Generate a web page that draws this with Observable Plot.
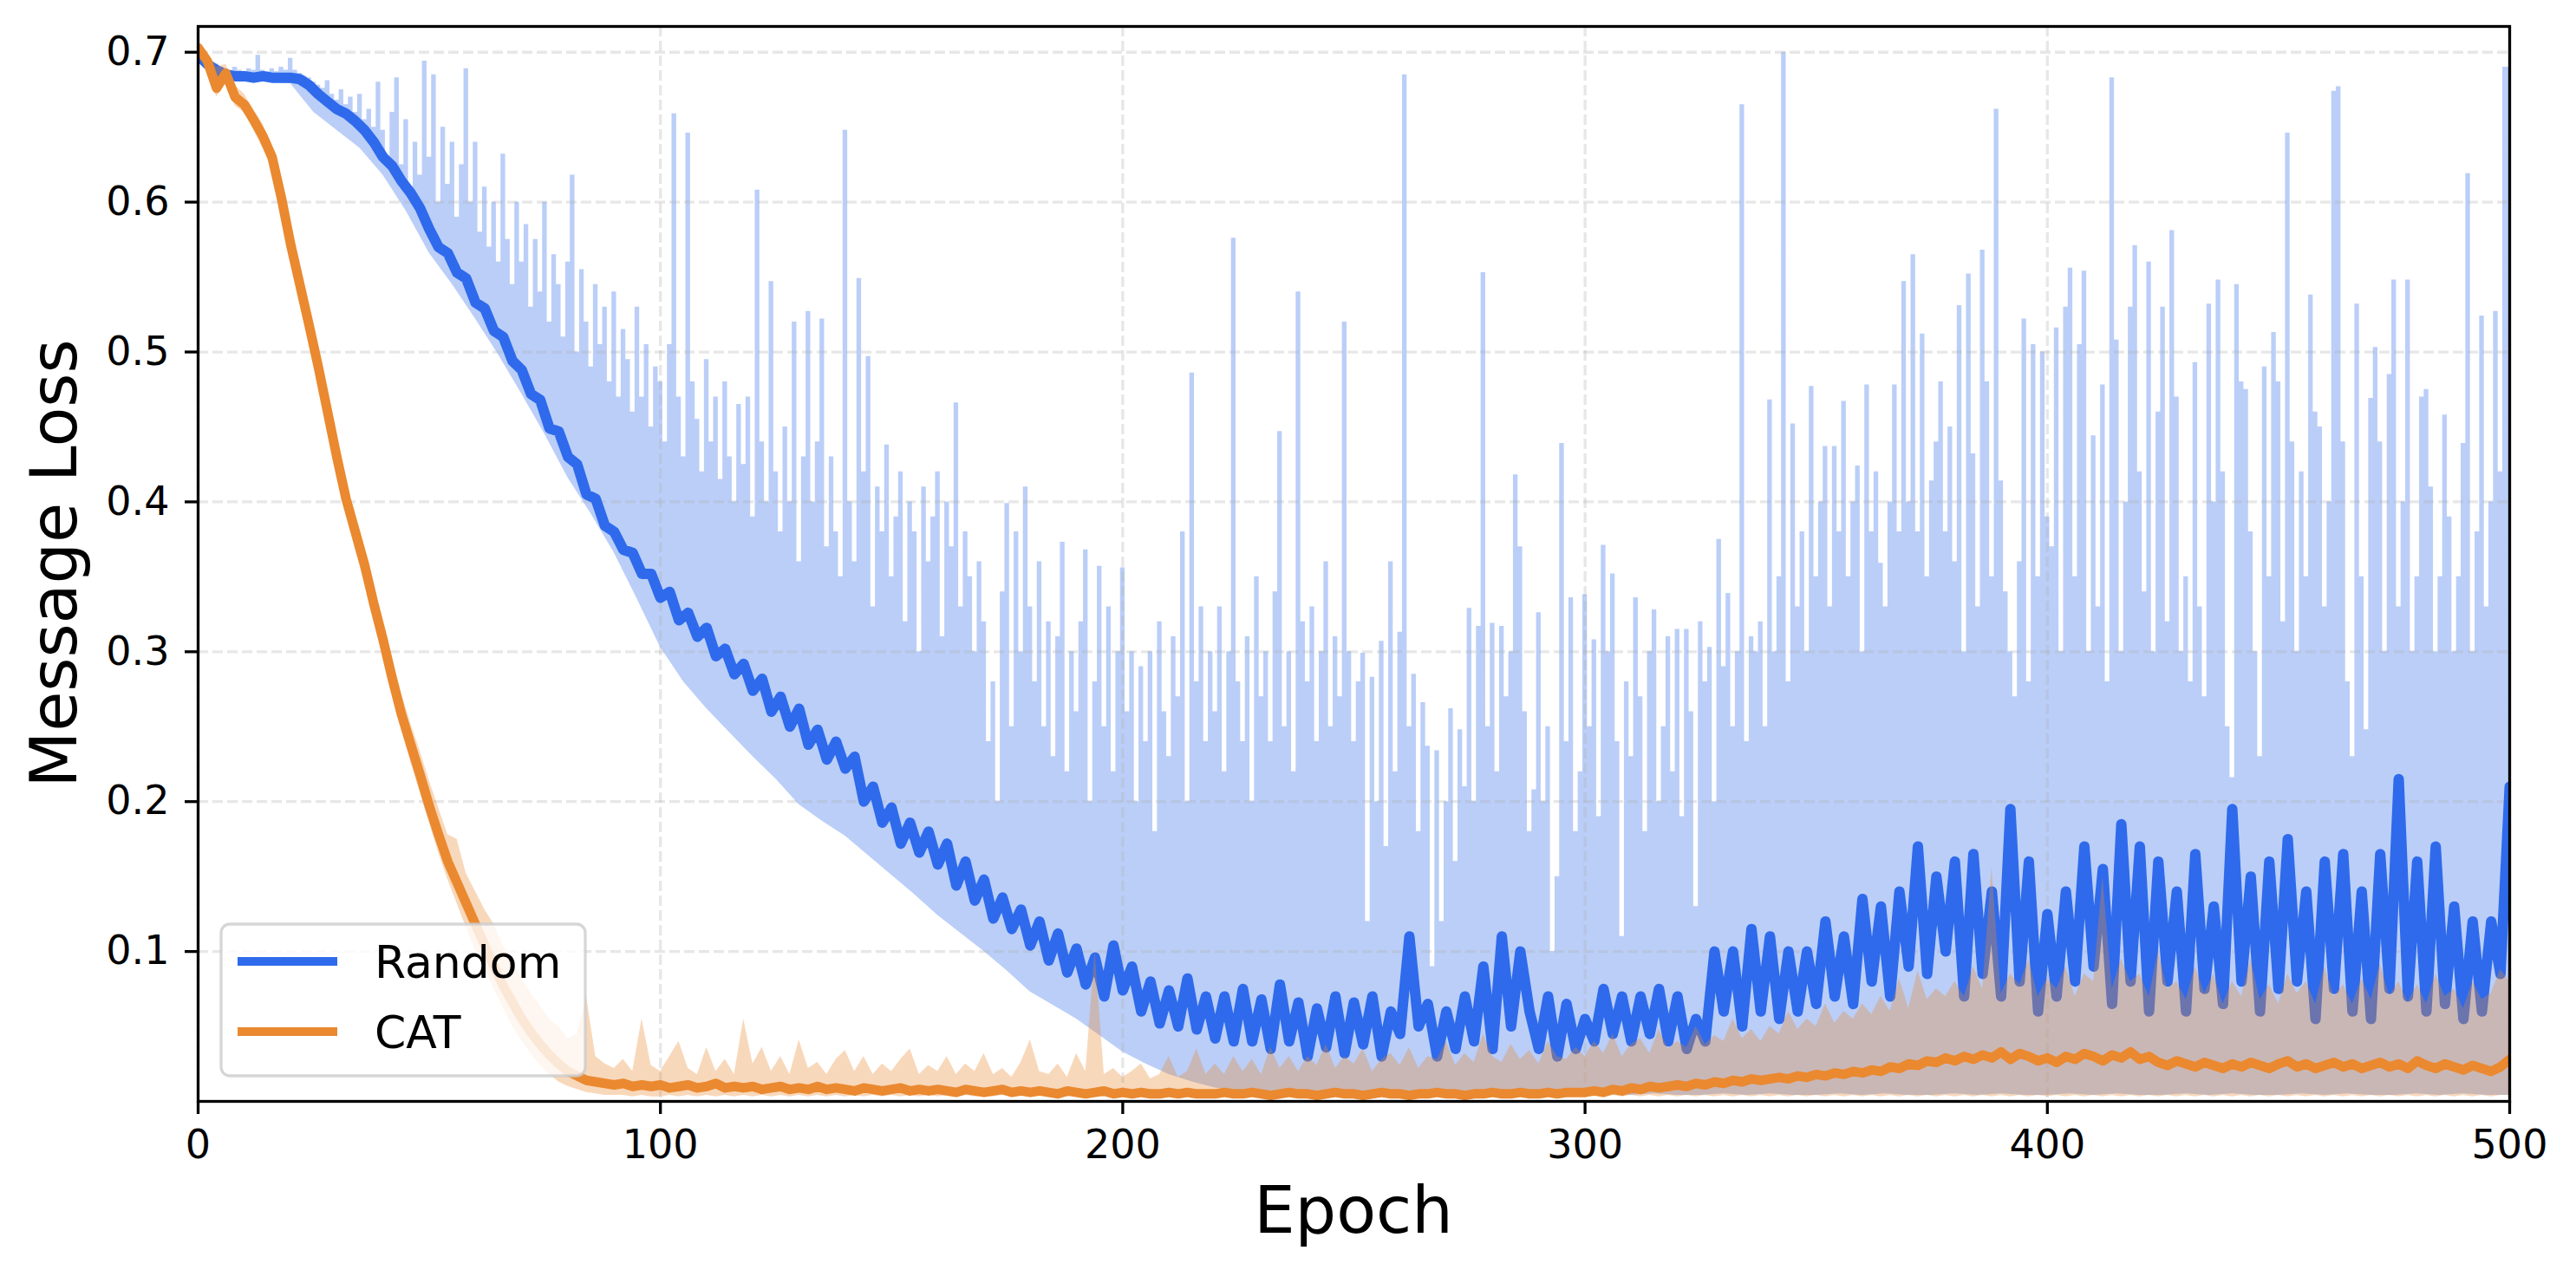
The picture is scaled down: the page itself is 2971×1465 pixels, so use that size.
<!DOCTYPE html>
<html>
<head>
<meta charset="utf-8">
<script src="https://cdn.jsdelivr.net/npm/d3@7"></script>
<script src="https://cdn.jsdelivr.net/npm/@observablehq/plot@0.6"></script>
<style>
  html, body { margin: 0; padding: 0; background: white; }
  #chart svg { display: block; }
</style>
</head>
<body>
<div id="chart"></div>
<script>
// ---------------- data ----------------
const seriesNames = ["Random", "CAT"];
const xTicks = [0, 100, 200, 300, 400, 500];
const yTicks = [0.1, 0.2, 0.3, 0.4, 0.5, 0.6, 0.7];

// Random: upper envelope of raw per-epoch loss (epoch 0..500, step 1)
const randomHigh = [
0.700,0.698,0.695,0.693,0.692,0.690,0.689,0.688,0.690,0.688,
0.687,0.689,0.688,0.698,0.688,0.687,0.689,0.687,0.690,0.688,
0.696,0.688,0.686,0.684,0.683,0.680,0.678,0.676,0.681,0.672,
0.668,0.675,0.665,0.670,0.660,0.672,0.655,0.662,0.650,0.680,
0.648,0.628,0.660,0.683,0.625,0.655,0.610,0.640,0.618,0.694,
0.630,0.685,0.600,0.650,0.612,0.640,0.590,0.625,0.689,0.600,
0.640,0.580,0.610,0.570,0.600,0.560,0.632,0.575,0.545,0.600,
0.560,0.585,0.530,0.575,0.540,0.600,0.520,0.565,0.545,0.510,
0.560,0.618,0.500,0.555,0.520,0.490,0.545,0.505,0.530,0.480,
0.540,0.470,0.515,0.495,0.460,0.530,0.470,0.505,0.450,0.490,
0.480,0.440,0.505,0.659,0.470,0.430,0.646,0.480,0.455,0.420,
0.495,0.440,0.470,0.415,0.480,0.430,0.400,0.465,0.425,0.470,
0.390,0.608,0.440,0.400,0.547,0.420,0.380,0.450,0.400,0.520,
0.360,0.430,0.527,0.400,0.440,0.522,0.370,0.430,0.380,0.350,
0.648,0.400,0.360,0.549,0.420,0.497,0.330,0.410,0.380,0.438,
0.350,0.390,0.420,0.320,0.400,0.380,0.300,0.410,0.360,0.390,
0.420,0.310,0.400,0.370,0.466,0.330,0.380,0.350,0.300,0.360,
0.320,0.240,0.280,0.200,0.340,0.399,0.250,0.380,0.300,0.410,
0.330,0.280,0.360,0.250,0.320,0.230,0.310,0.373,0.220,0.300,
0.260,0.320,0.368,0.200,0.280,0.357,0.250,0.330,0.220,0.300,
0.356,0.260,0.300,0.200,0.290,0.240,0.300,0.180,0.320,0.260,
0.230,0.310,0.270,0.380,0.200,0.486,0.280,0.330,0.240,0.300,
0.260,0.330,0.220,0.300,0.576,0.280,0.240,0.310,0.200,0.350,
0.270,0.300,0.240,0.340,0.447,0.250,0.300,0.220,0.540,0.320,
0.280,0.330,0.240,0.300,0.360,0.250,0.310,0.270,0.520,0.300,
0.240,0.280,0.299,0.120,0.283,0.200,0.307,0.170,0.360,0.220,
0.313,0.685,0.250,0.285,0.180,0.266,0.237,0.090,0.234,0.120,
0.200,0.262,0.160,0.248,0.210,0.329,0.200,0.317,0.553,0.250,
0.319,0.220,0.317,0.270,0.300,0.418,0.370,0.260,0.180,0.208,
0.326,0.200,0.250,0.100,0.150,0.439,0.240,0.336,0.180,0.220,
0.338,0.250,0.308,0.190,0.371,0.300,0.352,0.240,0.110,0.280,
0.230,0.336,0.270,0.180,0.300,0.328,0.200,0.250,0.310,0.220,
0.315,0.190,0.315,0.260,0.130,0.320,0.280,0.303,0.200,0.375,
0.290,0.339,0.250,0.300,0.665,0.240,0.310,0.300,0.320,0.250,
0.468,0.300,0.350,0.700,0.280,0.452,0.330,0.380,0.300,0.477,
0.350,0.400,0.437,0.330,0.437,0.380,0.467,0.350,0.400,0.424,
0.300,0.478,0.380,0.420,0.359,0.330,0.400,0.478,0.380,0.547,
0.400,0.565,0.380,0.512,0.350,0.414,0.440,0.480,0.380,0.450,
0.360,0.531,0.300,0.552,0.432,0.330,0.568,0.480,0.350,0.662,
0.414,0.340,0.300,0.270,0.360,0.522,0.280,0.505,0.350,0.500,
0.390,0.370,0.516,0.300,0.530,0.556,0.350,0.505,0.554,0.300,
0.444,0.330,0.478,0.280,0.683,0.508,0.300,0.400,0.530,0.571,
0.420,0.340,0.560,0.300,0.460,0.530,0.320,0.581,0.470,0.300,
0.350,0.280,0.493,0.330,0.270,0.532,0.400,0.548,0.420,0.250,
0.216,0.545,0.480,0.475,0.380,0.300,0.230,0.490,0.350,0.513,
0.480,0.320,0.646,0.440,0.300,0.420,0.350,0.538,0.460,0.450,
0.330,0.400,0.674,0.677,0.440,0.280,0.230,0.532,0.350,0.248,
0.469,0.503,0.440,0.300,0.485,0.548,0.330,0.400,0.548,0.300,
0.350,0.470,0.475,0.410,0.300,0.350,0.458,0.390,0.300,0.350,
0.439,0.619,0.300,0.380,0.524,0.330,0.400,0.527,0.420,0.690,
0.690
];

// Random: lower envelope of raw loss (epoch 0..500, step 5)
const randomLow = [
0.697,0.684,0.681,0.680,0.679,0.660,0.648,0.636,0.618,0.594,
0.566,0.545,0.522,0.498,0.472,0.445,0.416,0.392,0.366,0.335,
0.303,0.280,0.262,0.246,0.230,0.215,0.198,0.187,0.177,0.164,
0.151,0.138,0.124,0.112,0.100,0.087,0.073,0.064,0.055,0.044,
0.033,0.025,0.018,0.013,0.009,0.007,0.005,0.005,0.004,0.005,
0.004,0.005,0.004,0.005,0.004,0.004,0.005,0.004,0.005,0.004,
0.004,0.005,0.004,0.005,0.004,0.004,0.005,0.004,0.005,0.004,
0.004,0.005,0.004,0.005,0.004,0.004,0.005,0.004,0.005,0.004,
0.004,0.005,0.004,0.005,0.004,0.004,0.005,0.004,0.005,0.004,
0.004,0.005,0.004,0.005,0.004,0.004,0.005,0.004,0.005,0.004,
0.004
];

// Random: smoothed loss (epoch 0..500, step 2)
const randomMean = [
0.698,0.692,0.688,0.685,0.684,0.684,0.683,0.684,0.683,0.683,
0.683,0.682,0.678,0.672,0.667,0.662,0.659,0.654,0.648,0.640,
0.630,0.624,0.614,0.606,0.596,0.582,0.570,0.566,0.553,0.549,
0.533,0.529,0.514,0.510,0.494,0.488,0.472,0.468,0.449,0.447,
0.430,0.425,0.405,0.402,0.384,0.380,0.368,0.366,0.352,0.352,
0.336,0.340,0.321,0.326,0.310,0.316,0.297,0.302,0.285,0.292,
0.274,0.282,0.260,0.270,0.250,0.262,0.238,0.248,0.228,0.240,
0.222,0.230,0.200,0.210,0.186,0.196,0.172,0.186,0.166,0.180,
0.158,0.172,0.144,0.160,0.134,0.148,0.122,0.136,0.115,0.128,
0.104,0.120,0.094,0.112,0.086,0.102,0.078,0.096,0.070,0.104,
0.074,0.090,0.060,0.080,0.052,0.074,0.050,0.082,0.048,0.070,
0.042,0.070,0.040,0.075,0.040,0.068,0.035,0.078,0.040,0.066,
0.030,0.062,0.036,0.070,0.032,0.066,0.038,0.070,0.030,0.060,
0.045,0.110,0.050,0.065,0.030,0.060,0.035,0.070,0.040,0.090,
0.035,0.110,0.050,0.100,0.060,0.035,0.070,0.030,0.065,0.035,
0.055,0.040,0.075,0.045,0.070,0.040,0.070,0.045,0.075,0.040,
0.070,0.035,0.055,0.040,0.100,0.060,0.100,0.050,0.115,0.060,
0.110,0.055,0.100,0.060,0.100,0.065,0.120,0.070,0.110,0.065,
0.135,0.080,0.130,0.070,0.140,0.090,0.170,0.085,0.150,0.100,
0.160,0.070,0.165,0.085,0.140,0.070,0.195,0.080,0.160,0.060,
0.125,0.070,0.140,0.080,0.170,0.090,0.155,0.065,0.185,0.080,
0.170,0.060,0.160,0.080,0.140,0.060,0.165,0.075,0.130,0.065,
0.195,0.080,0.150,0.060,0.160,0.075,0.175,0.080,0.140,0.055,
0.160,0.075,0.165,0.060,0.140,0.055,0.165,0.075,0.215,0.070,
0.160,0.060,0.170,0.065,0.130,0.055,0.120,0.060,0.120,0.085,
0.210
];

// CAT: smoothed loss, raw upper and lower envelopes (epoch 0..500, step 2)
const catMean = [
0.703,0.694,0.676,0.686,0.670,0.665,0.655,0.644,0.630,0.603,
0.572,0.545,0.518,0.490,0.460,0.430,0.402,0.380,0.358,0.332,
0.308,0.282,0.258,0.238,0.218,0.197,0.178,0.160,0.146,0.132,
0.118,0.104,0.090,0.077,0.066,0.055,0.046,0.038,0.031,0.025,
0.020,0.017,0.014,0.013,0.012,0.011,0.012,0.010,0.011,0.010,
0.011,0.009,0.010,0.011,0.009,0.010,0.012,0.009,0.010,0.009,
0.010,0.008,0.009,0.010,0.008,0.009,0.008,0.010,0.008,0.009,
0.008,0.007,0.009,0.008,0.007,0.008,0.009,0.007,0.008,0.007,
0.008,0.007,0.006,0.008,0.007,0.006,0.007,0.008,0.006,0.007,
0.006,0.007,0.006,0.005,0.007,0.006,0.005,0.006,0.007,0.005,
0.006,0.005,0.006,0.005,0.005,0.006,0.005,0.006,0.005,0.005,
0.005,0.006,0.005,0.005,0.006,0.005,0.004,0.005,0.006,0.005,
0.005,0.004,0.005,0.006,0.005,0.005,0.004,0.005,0.006,0.005,
0.005,0.004,0.005,0.005,0.006,0.005,0.005,0.004,0.005,0.005,
0.006,0.005,0.005,0.006,0.005,0.005,0.006,0.005,0.006,0.006,
0.006,0.007,0.006,0.008,0.007,0.009,0.008,0.010,0.009,0.010,
0.011,0.010,0.012,0.011,0.013,0.012,0.014,0.013,0.015,0.014,
0.015,0.016,0.015,0.017,0.016,0.018,0.017,0.019,0.018,0.020,
0.019,0.021,0.020,0.023,0.022,0.025,0.024,0.027,0.026,0.029,
0.027,0.030,0.028,0.031,0.029,0.033,0.028,0.032,0.030,0.027,
0.029,0.026,0.030,0.028,0.032,0.030,0.027,0.031,0.029,0.033,
0.028,0.030,0.026,0.024,0.027,0.025,0.023,0.026,0.024,0.022,
0.025,0.023,0.026,0.024,0.022,0.025,0.027,0.023,0.025,0.022,
0.024,0.026,0.023,0.025,0.022,0.024,0.026,0.023,0.025,0.022,
0.027,0.024,0.022,0.025,0.023,0.021,0.024,0.022,0.020,0.023,
0.028
];
const catHigh = [
0.706,0.700,0.690,0.692,0.678,0.672,0.662,0.652,0.638,0.612,
0.582,0.556,0.528,0.502,0.470,0.442,0.414,0.392,0.370,0.344,
0.320,0.296,0.272,0.252,0.234,0.214,0.196,0.178,0.175,0.152,
0.140,0.128,0.118,0.104,0.094,0.082,0.072,0.064,0.055,0.050,
0.042,0.045,0.070,0.030,0.025,0.022,0.028,0.020,0.055,0.024,
0.020,0.030,0.040,0.022,0.018,0.036,0.020,0.028,0.018,0.055,
0.025,0.036,0.020,0.030,0.018,0.041,0.022,0.026,0.018,0.028,
0.034,0.020,0.030,0.018,0.025,0.020,0.028,0.035,0.018,0.024,
0.020,0.030,0.018,0.025,0.020,0.032,0.018,0.022,0.016,0.026,
0.041,0.020,0.018,0.025,0.016,0.032,0.020,0.100,0.018,0.022,
0.016,0.020,0.025,0.015,0.018,0.030,0.016,0.020,0.035,0.018,
0.025,0.018,0.030,0.020,0.028,0.018,0.036,0.022,0.030,0.020,
0.030,0.024,0.038,0.022,0.030,0.025,0.035,0.020,0.028,0.032,
0.024,0.036,0.022,0.030,0.028,0.040,0.024,0.032,0.026,0.045,
0.030,0.026,0.038,0.028,0.034,0.025,0.040,0.030,0.028,0.036,
0.030,0.040,0.032,0.045,0.030,0.038,0.042,0.032,0.048,0.035,
0.040,0.036,0.050,0.038,0.044,0.040,0.055,0.042,0.048,0.040,
0.050,0.045,0.060,0.048,0.055,0.050,0.065,0.052,0.060,0.055,
0.065,0.058,0.070,0.060,0.082,0.062,0.087,0.068,0.075,0.070,
0.080,0.070,0.090,0.075,0.156,0.072,0.085,0.078,0.095,0.070,
0.082,0.075,0.090,0.070,0.085,0.080,0.150,0.075,0.095,0.080,
0.085,0.070,0.100,0.075,0.080,0.068,0.090,0.072,0.085,0.065,
0.080,0.070,0.095,0.068,0.078,0.065,0.085,0.072,0.080,0.065,
0.090,0.070,0.078,0.065,0.082,0.068,0.092,0.070,0.080,0.066,
0.078,0.065,0.085,0.070,0.075,0.062,0.080,0.068,0.072,0.088,
0.080
];
const catLow = [
0.700,0.690,0.670,0.680,0.664,0.660,0.648,0.636,0.622,0.594,
0.562,0.534,0.508,0.478,0.450,0.420,0.392,0.368,0.346,0.322,
0.298,0.272,0.248,0.226,0.206,0.186,0.166,0.148,0.132,0.116,
0.100,0.088,0.075,0.062,0.050,0.040,0.032,0.024,0.018,0.013,
0.010,0.008,0.006,0.005,0.004,0.004,0.004,0.003,0.004,0.003,
0.003,0.004,0.003,0.004,0.003,0.004,0.003,0.004,0.003,0.004,
0.003,0.004,0.003,0.004,0.003,0.004,0.003,0.004,0.003,0.004,
0.003,0.004,0.003,0.004,0.003,0.004,0.003,0.004,0.003,0.004,
0.003,0.004,0.003,0.004,0.003,0.004,0.003,0.004,0.003,0.004,
0.003,0.004,0.003,0.004,0.003,0.004,0.003,0.004,0.003,0.004,
0.003,0.004,0.003,0.004,0.003,0.004,0.003,0.004,0.003,0.004,
0.003,0.004,0.003,0.004,0.003,0.004,0.003,0.004,0.003,0.004,
0.003,0.004,0.003,0.004,0.003,0.004,0.003,0.004,0.003,0.004,
0.003,0.004,0.003,0.004,0.003,0.004,0.003,0.004,0.003,0.004,
0.003,0.004,0.003,0.004,0.003,0.004,0.003,0.004,0.003,0.004,
0.003,0.004,0.003,0.004,0.003,0.004,0.003,0.004,0.003,0.004,
0.003,0.004,0.003,0.004,0.003,0.004,0.003,0.004,0.003,0.004,
0.003,0.004,0.003,0.004,0.003,0.004,0.003,0.004,0.003,0.004,
0.003,0.004,0.003,0.004,0.003,0.004,0.003,0.004,0.003,0.004,
0.003,0.004,0.003,0.004,0.003,0.004,0.003,0.004,0.003,0.004,
0.003,0.004,0.003,0.004,0.003,0.004,0.003,0.004,0.003,0.004,
0.003,0.004,0.003,0.004,0.003,0.004,0.003,0.004,0.003,0.004,
0.003,0.004,0.003,0.004,0.003,0.004,0.003,0.004,0.003,0.004,
0.003,0.004,0.003,0.004,0.003,0.004,0.003,0.004,0.003,0.004,
0.003,0.004,0.003,0.004,0.003,0.004,0.003,0.004,0.003,0.004,
0.004
];

// ---------------- build ----------------
const BLUE = "#2e6aeb";
const ORANGE = "#ea8930";
const FONT = "DejaVu Sans";

const randomHighRows = randomHigh.map((v, i) => ({epoch: i, loss: v}));
const randomLowRows = randomLow.map((v, i) => ({epoch: i * 5, loss: v}));
const randomMeanRows = randomMean.map((v, i) => ({epoch: i * 2, loss: v}));
const catRows = catMean.map((v, i) => ({epoch: i * 2, mean: v, high: catHigh[i], low: catLow[i]}));

const gridStyle = {stroke: "#b0b0b0", strokeOpacity: 0.3, strokeWidth: 3.3, strokeDasharray: "12,5"};

const chart = Plot.plot({
  width: 2971,
  height: 1465,
  marginLeft: 228,
  marginRight: 77,
  marginTop: 30,
  marginBottom: 195,
  style: {fontFamily: FONT, background: "white", color: "black", overflow: "visible"},
  x: {domain: [0, 500]},
  y: {domain: [0, 0.7172]},
  marks: [
    Plot.areaY(randomHighRows, {x: "epoch", y: "loss", fill: BLUE, fillOpacity: 0.33, curve: "step"}),
    Plot.areaY(randomLowRows, {x: "epoch", y: "loss", fill: "white"}),
    Plot.gridX(xTicks, {...gridStyle}),
    Plot.gridY(yTicks, {...gridStyle}),
    Plot.lineY(randomMeanRows, {x: "epoch", y: "loss", stroke: BLUE, strokeWidth: 12, strokeLinejoin: "round", strokeLinecap: "round", clip: true}),
    Plot.areaY(catRows, {x: "epoch", y1: "low", y2: "high", fill: ORANGE, fillOpacity: 0.33}),
    Plot.lineY(catRows, {x: "epoch", y: "mean", stroke: ORANGE, strokeWidth: 11, strokeLinejoin: "round", strokeLinecap: "round", clip: true}),
    Plot.frame({stroke: "black", strokeWidth: 3.3}),
    Plot.axisX({ticks: xTicks, tickSize: 15, tickPadding: 18, strokeWidth: 3.3, fontSize: 46, fontFamily: FONT, label: null, tickFormat: d => String(d)}),
    Plot.axisY({ticks: yTicks, tickSize: 15, tickPadding: 18, strokeWidth: 3.3, fontSize: 46, fontFamily: FONT, label: null, tickFormat: d => d.toFixed(1)})
  ]
});

const svg = d3.select(chart);

// axis titles
svg.append("text")
  .attr("x", 1561).attr("y", 1422)
  .attr("text-anchor", "middle")
  .attr("font-family", FONT).attr("font-size", 75).attr("fill", "black")
  .text("Epoch");
svg.append("text")
  .attr("transform", "translate(88,650) rotate(-90)")
  .attr("text-anchor", "middle")
  .attr("font-family", FONT).attr("font-size", 75).attr("fill", "black")
  .text("Message Loss");

// legend
const lg = svg.append("g");
lg.append("rect")
  .attr("x", 255).attr("y", 1066).attr("width", 420).attr("height", 175)
  .attr("rx", 10).attr("ry", 10)
  .attr("fill", "white").attr("fill-opacity", 0.8)
  .attr("stroke", "#cccccc").attr("stroke-opacity", 0.8).attr("stroke-width", 3.3);
const legendColors = [BLUE, ORANGE];
const legendY = [1109, 1190];
seriesNames.forEach((name, i) => {
  lg.append("line")
    .attr("x1", 274).attr("x2", 389)
    .attr("y1", legendY[i]).attr("y2", legendY[i])
    .attr("stroke", legendColors[i]).attr("stroke-width", 10);
  lg.append("text")
    .attr("x", 432).attr("y", legendY[i] + 19)
    .attr("text-anchor", "start")
    .attr("font-family", FONT).attr("font-size", 52).attr("fill", "black")
    .text(name);
});

document.getElementById("chart").appendChild(chart);
</script>
</body>
</html>
